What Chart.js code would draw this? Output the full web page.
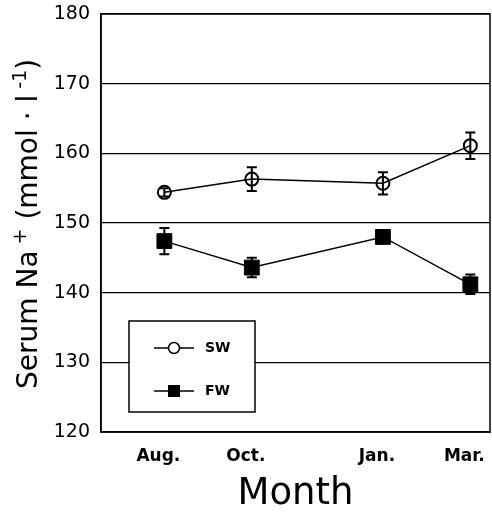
<!DOCTYPE html>
<html>
<head>
<meta charset="utf-8">
<script src="https://cdn.jsdelivr.net/npm/chart.js@4.4.1/dist/chart.umd.min.js"></script>
<style>
  html, body { margin: 0; padding: 0; background: #fff; }
  #wrap { width: 492px; height: 513px; position: relative; }
</style>
</head>
<body>
<div id="wrap"><canvas id="c" width="492" height="513"></canvas></div>
<script>
// ---- data ----
const monthValues = [8, 10, 13, 15];           // month number (Aug=8 ... Mar=15 of next year)
const monthLabels = ['Aug.', 'Oct.', 'Jan.', 'Mar.'];
const swMean = [154.4, 156.3, 155.7, 161.1];
const swErr  = [0.6, 1.7, 1.6, 1.9];
const fwMean = [147.4, 143.6, 148.0, 141.2];
const fwErr  = [1.9, 1.4, 0.5, 1.4];
const yTicks = [120, 130, 140, 150, 160, 170, 180];
const seriesLabels = ['SW', 'FW'];
const xTitle = 'Month';
// [text, isSuperscript]
const yTitleParts = [['Serum Na', false], [' +', true], [' (mmol', false], [' \u00b7 ', false], ['l', false], [' -1', true], [')', false]];

const FONT = "'DejaVu Sans', 'Liberation Sans', sans-serif";

const errs = [swErr, fwErr];

const errorBarPlugin = {
  id: 'errorBars',
  beforeDatasetsDraw(chart) {
    const ctx = chart.ctx;
    const xs = chart.scales.x, ys = chart.scales.y;
    ctx.save();
    ctx.strokeStyle = '#000';
    ctx.lineWidth = 2;
    chart.data.datasets.forEach((ds, i) => {
      ds.data.forEach((p, j) => {
        const e = errs[i][j];
        const x = xs.getPixelForValue(p.x);
        const yt = ys.getPixelForValue(p.y + e);
        const yb = ys.getPixelForValue(p.y - e);
        ctx.beginPath();
        ctx.moveTo(x, yt); ctx.lineTo(x, yb);
        ctx.moveTo(x - 5, yt); ctx.lineTo(x + 5, yt);
        ctx.moveTo(x - 5, yb); ctx.lineTo(x + 5, yb);
        ctx.stroke();
      });
    });
    ctx.restore();
  }
};

const framePlugin = {
  id: 'frame',
  afterDraw(chart) {
    const ctx = chart.ctx;
    const a = chart.chartArea;
    ctx.save();
    ctx.strokeStyle = '#000';
    ctx.lineWidth = 1.5;
    ctx.strokeRect(a.left, a.top, a.right - a.left, a.bottom - a.top);

    // legend box
    const bx = a.left + 28, by = a.top + 307, bw = 126, bh = 91;
    ctx.fillStyle = '#fff';
    ctx.fillRect(bx, by, bw, bh);
    ctx.lineWidth = 1.5;
    ctx.strokeRect(bx, by, bw, bh);
    const rows = [by + 27, by + 70];
    chart.data.datasets.forEach((ds, i) => {
      const y = rows[i];
      ctx.lineWidth = 1.5;
      ctx.strokeStyle = '#000';
      ctx.beginPath();
      ctx.moveTo(bx + 25, y); ctx.lineTo(bx + 65, y);
      ctx.stroke();
      if (i === 0) {
        ctx.beginPath();
        ctx.arc(bx + 45, y, 5.5, 0, Math.PI * 2);
        ctx.fillStyle = '#fff';
        ctx.fill();
        ctx.lineWidth = 1.5;
        ctx.stroke();
      } else {
        ctx.fillStyle = '#000';
        ctx.fillRect(bx + 39, y - 6, 12, 12);
      }
      ctx.fillStyle = '#000';
      ctx.font = 'bold 14px ' + FONT;
      ctx.textBaseline = 'middle';
      ctx.textAlign = 'left';
      ctx.fillText(ds.label, bx + 76, y);
    });

    // y axis title with superscripts
    ctx.save();
    ctx.translate(37, a.bottom - 43);
    ctx.rotate(-Math.PI / 2);
    ctx.fillStyle = '#000';
    ctx.textBaseline = 'alphabetic';
    ctx.textAlign = 'left';
    let cx = 0;
    yTitleParts.forEach(([t, sup]) => {
      ctx.font = (sup ? '19px ' : '28px ') + FONT;
      ctx.fillText(t, cx, sup ? -11 : 0);
      cx += ctx.measureText(t).width;
    });
    ctx.restore();
    ctx.restore();
  }
};

const ctx = document.getElementById('c').getContext('2d');
new Chart(ctx, {
  type: 'scatter',
  data: {
    datasets: [
      {
        label: seriesLabels[0],
        data: monthValues.map((m, i) => ({ x: m, y: swMean[i] })),
        showLine: true,
        borderColor: '#000',
        borderWidth: 1.5,
        pointStyle: 'circle',
        pointRadius: 6.5,
        pointBorderWidth: 2,
        pointBackgroundColor: 'rgba(0,0,0,0)',
        pointBorderColor: '#000'
      },
      {
        label: seriesLabels[1],
        data: monthValues.map((m, i) => ({ x: m, y: fwMean[i] })),
        showLine: true,
        borderColor: '#000',
        borderWidth: 1.5,
        pointStyle: 'rect',
        pointRadius: 10.5,
        pointBorderWidth: 1,
        pointBackgroundColor: '#000',
        pointBorderColor: '#000'
      }
    ]
  },
  options: {
    responsive: false,
    animation: false,
    layout: { autoPadding: false, padding: { top: 14, right: 2, left: 0, bottom: 0 } },
    plugins: { legend: { display: false }, tooltip: { enabled: false } },
    scales: {
      x: {
        type: 'linear',
        min: 6.55,
        max: 15.45,
        afterBuildTicks(s) { s.ticks = monthValues.map(v => ({ value: v })); },
        afterFit(s) { s.height = 81; s.paddingLeft = 0; s.paddingRight = 0; },
        grid: { display: false, drawTicks: false },
        border: { display: true, color: '#000', width: 1.5 },
        ticks: {
          color: '#000',
          font: { family: FONT, size: 17, weight: 'bold' },
          padding: 14,
          labelOffset: -6,
          autoSkip: false,
          maxRotation: 0,
          callback(v) { const i = monthValues.indexOf(v); return i >= 0 ? monthLabels[i] : ''; }
        },
        title: {
          display: true,
          text: xTitle,
          color: '#000',
          font: { family: FONT, size: 37, lineHeight: 1.0 },
          padding: { top: 0, bottom: 0 }
        }
      },
      y: {
        min: 120,
        max: 180,
        afterBuildTicks(s) { s.ticks = yTicks.map(v => ({ value: v })); },
        afterFit(s) { s.width = 101; s.paddingTop = 0; s.paddingBottom = 0; },
        grid: { color: '#000', lineWidth: 1.3, drawTicks: false },
        border: { display: true, color: '#000', width: 1.5 },
        ticks: {
          color: '#000',
          font: { family: FONT, size: 19 },
          padding: 11
        }
      }
    }
  },
  plugins: [errorBarPlugin, framePlugin]
});
</script>
</body>
</html>
